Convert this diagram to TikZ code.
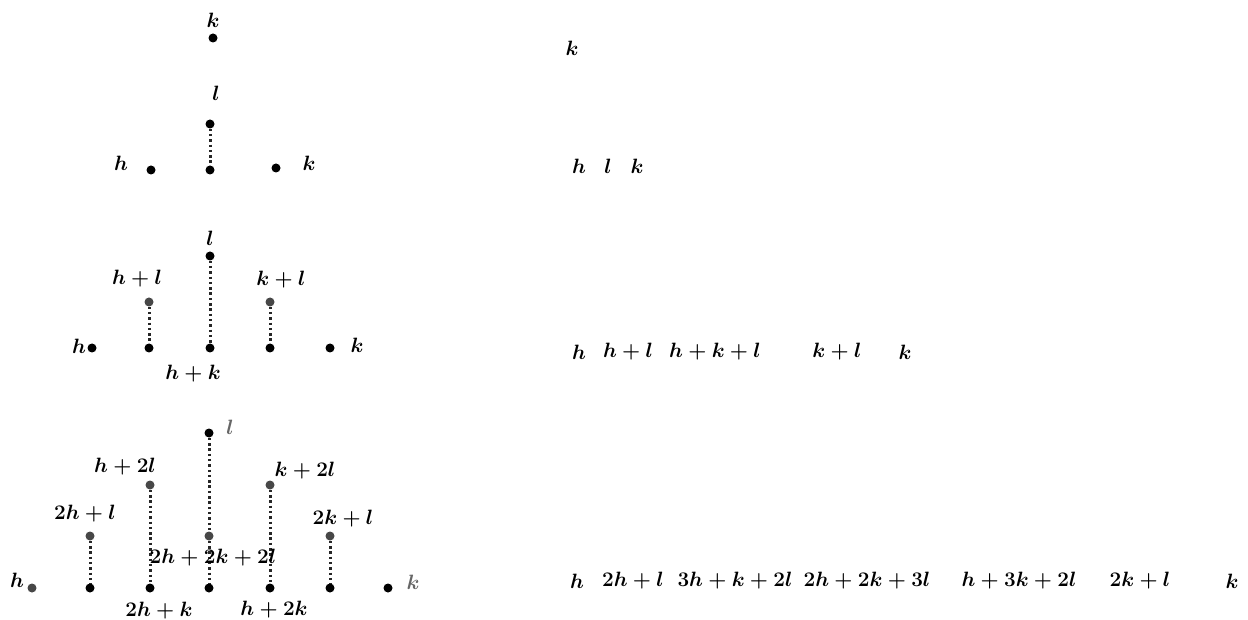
\documentclass[tikz,border=0pt]{standalone}
\usepackage{amsmath}
\begin{document}
\begin{tikzpicture}[x=1pt,y=-1pt,
  dot/.style={circle,fill=black,inner sep=0pt,minimum size=9pt},
  gdot/.style={dot,fill=black!72},
  lab/.style={inner sep=0pt,font=\fontsize{20.5}{24}\selectfont\boldmath},
  rlab/.style={inner sep=0pt,font=\fontsize{21.5}{25}\selectfont\boldmath},
  glab/.style={lab,text=black!60},
  dline/.style={line width=3pt,dash pattern=on 2.5pt off 2.8pt,black!85}]
\path[use as bounding box] (0,0) rectangle (1248,620);

% ---------- row 1
\node[dot] (r1k) at (213,38) {};
\node[lab] (r1kl) at (213,20) {$k$};

% ---------- row 2
\node[dot] (r2l) at (210,124) {};
\node[dot] (r2h) at (151,170) {};
\node[dot] (r2c) at (210,170) {};
\node[dot] (r2k) at (276,168) {};
\draw[dline] (r2l) -- (r2c);
\node[lab] (r2ll) at (216,93) {$l$};
\node[lab] (r2hl) at (121,163) {$h$};
\node[lab] (r2kl) at (309,163) {$k$};

% ---------- row 3
\node[dot] (r3l) at (210,256) {};
\node[gdot] (r3hl) at (149,302) {};
\node[gdot] (r3kl) at (270,302) {};
\node[dot] (r3h) at (92,348) {};
\node[dot] (r3a) at (149,348) {};
\node[dot] (r3c) at (210,348) {};
\node[dot] (r3b) at (270,348) {};
\node[dot] (r3k) at (330,348) {};
\draw[dline] (r3l) -- (r3c);
\draw[dline] (r3hl) -- (r3a);
\draw[dline] (r3kl) -- (r3b);
\node[lab] (r3ll) at (210,238) {$l$};
\node[lab] (r3hll) at (137,279) {$h+l$};
\node[lab] (r3kll) at (281,280) {$k+l$};
\node[lab] (r3hlab) at (79,346) {$h$};
\node[lab] (r3klab) at (357,345) {$k$};
\node[lab] (r3hk) at (193,374) {$h+k$};

% ---------- row 4
\node[dot] (r4l) at (209,433) {};
\node[gdot] (r4h2l) at (150,485) {};
\node[gdot] (r4k2l) at (270,485) {};
\node[gdot] (r42hl) at (90,536) {};
\node[gdot] (r4m) at (209,536) {};
\node[gdot] (r42kl) at (330,536) {};
\node[gdot] (r4h) at (32,588) {};
\node[dot] (r4a) at (90,588) {};
\node[dot] (r4b) at (150,588) {};
\node[dot] (r4c) at (209,588) {};
\node[dot] (r4d) at (270,588) {};
\node[dot] (r4e) at (330,588) {};
\node[dot] (r4k) at (388,588) {};
\draw[dline] (r4l) -- (r4m);
\draw[dline] (r4m) -- (r4c);
\draw[dline] (r4h2l) -- (r4b);
\draw[dline] (r4k2l) -- (r4d);
\draw[dline] (r42hl) -- (r4a);
\draw[dline] (r42kl) -- (r4e);
\node[glab] (r4ll) at (230,427) {$l$};
\node[lab] (r4h2ll) at (125,467) {$h+2l$};
\node[lab] (r4k2ll) at (305,471) {$k+2l$};
\node[lab] (r42hll) at (85,514) {$2h+l$};
\node[lab] (r4ml) at (213,558) {$2h+2k+2l$};
\node[lab] (r42kll) at (343,519) {$2k+l$};
\node[lab] (r4hlab) at (17,580) {$h$};
\node[glab] (r4klab) at (413,582) {$k$};
\node[lab] (r42hk) at (159,611) {$2h+k$};
\node[lab] (r4h2k) at (274,610) {$h+2k$};

% ---------- right column
\node[rlab] (t1) at (572,48) {$k$};

\node[rlab] (t2a) at (579,166) {$h$};
\node[rlab] (t2b) at (608,166) {$l$};
\node[rlab] (t2c) at (637,166) {$k$};

\node[rlab] (t3a) at (579,352) {$h$};
\node[rlab] (t3b) at (628,352) {$h+l$};
\node[rlab] (t3c) at (715,352) {$h+k+l$};
\node[rlab] (t3d) at (837,352) {$k+l$};
\node[rlab] (t3e) at (905,352) {$k$};

\node[rlab] (t4a) at (577,581) {$h$};
\node[rlab] (t4b) at (633,581) {$2h+l$};
\node[rlab] (t4c) at (735,581) {$3h+k+2l$};
\node[rlab] (t4d) at (867,581) {$2h+2k+3l$};
\node[rlab] (t4e) at (1019,581) {$h+3k+2l$};
\node[rlab] (t4f) at (1140,581) {$2k+l$};
\node[rlab] (t4g) at (1232,581) {$k$};
\end{tikzpicture}
\end{document}
